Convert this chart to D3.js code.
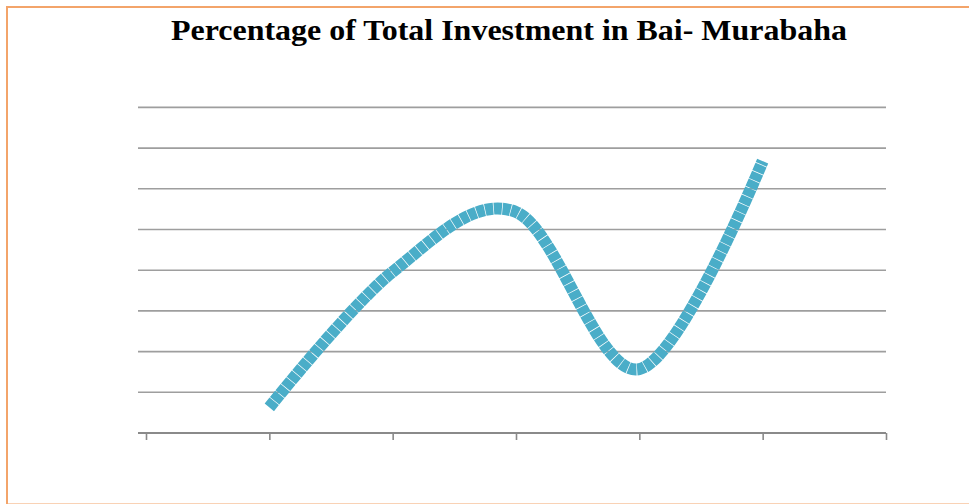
<!DOCTYPE html>
<html>
<head>
<meta charset="utf-8">
<script src="https://cdn.jsdelivr.net/npm/d3@7"></script>
<style>
  html, body { margin: 0; padding: 0; background: #ffffff; }
  svg { display: block; }
</style>
</head>
<body>
<svg id="chart" width="969" height="504"></svg>
<script>
// Category slots along the axis (outer slots are empty, the series fills the middle five)
const categories = ["", "1", "2", "3", "4", "5", ""];
// Share of total investment placed in Bai-Murabaha (%)
const values = [null, 6.3, 39.6, 54.3, 15.7, 66.8, null];
// Value gridlines
const yTicks = [0, 10, 20, 30, 40, 50, 60, 70, 80];
const title = "Percentage of Total Investment in Bai- Murabaha";

const svg = d3.select("#chart");

// Outer frame
svg.append("rect")
  .attr("x", 7).attr("y", 7)
  .attr("width", 980).attr("height", 497.5)
  .attr("fill", "none")
  .attr("stroke", "#f3a46a")
  .attr("stroke-width", 2);

// Title
svg.append("text")
  .attr("x", 509).attr("y", 40)
  .attr("text-anchor", "middle")
  .attr("font-family", "'Liberation Serif', 'Times New Roman', serif")
  .attr("font-weight", "bold")
  .attr("font-size", 30)
  .attr("textLength", 676)
  .attr("lengthAdjust", "spacingAndGlyphs")
  .attr("fill", "#000")
  .text(title);

const plotLeft = 138, plotRight = 886;
const x = d3.scalePoint()
  .domain(d3.range(categories.length))
  .range([146, 886]);
const y = d3.scaleLinear()
  .domain([0, 80])
  .range([433, 107.4]);

// Horizontal gridlines
svg.append("g")
  .selectAll("line")
  .data(yTicks.filter(t => t > 0))
  .join("line")
  .attr("x1", plotLeft).attr("x2", plotRight)
  .attr("y1", d => y(d)).attr("y2", d => y(d))
  .attr("stroke", "#9e9e9e")
  .attr("stroke-width", 1.6);

// Category axis with downward ticks, no labels
const xAxis = d3.axisBottom(x)
  .tickSize(7)
  .tickFormat(() => "");
const gx = svg.append("g")
  .attr("transform", `translate(0,${y(0)})`)
  .call(xAxis);
gx.select(".domain").remove();
gx.selectAll(".tick line").attr("stroke", "#8a8a8a").attr("stroke-width", 1.6);
gx.append("line")
  .attr("x1", plotLeft).attr("x2", plotRight)
  .attr("y1", 0).attr("y2", 0)
  .attr("stroke", "#8a8a8a")
  .attr("stroke-width", 2);

// Smoothed series line
const line = d3.line()
  .defined(d => d.v != null)
  .x(d => x(d.i))
  .y(d => y(d.v))
  .curve(d3.curveCardinal.tension(0));

svg.append("path")
  .datum(values.map((v, i) => ({ i, v })))
  .attr("d", line)
  .attr("fill", "none")
  .attr("stroke", "#4aadc8")
  .attr("stroke-width", 12)
  .attr("stroke-dasharray", "8,0.7")
  .attr("stroke-linecap", "butt");
</script>
</body>
</html>
